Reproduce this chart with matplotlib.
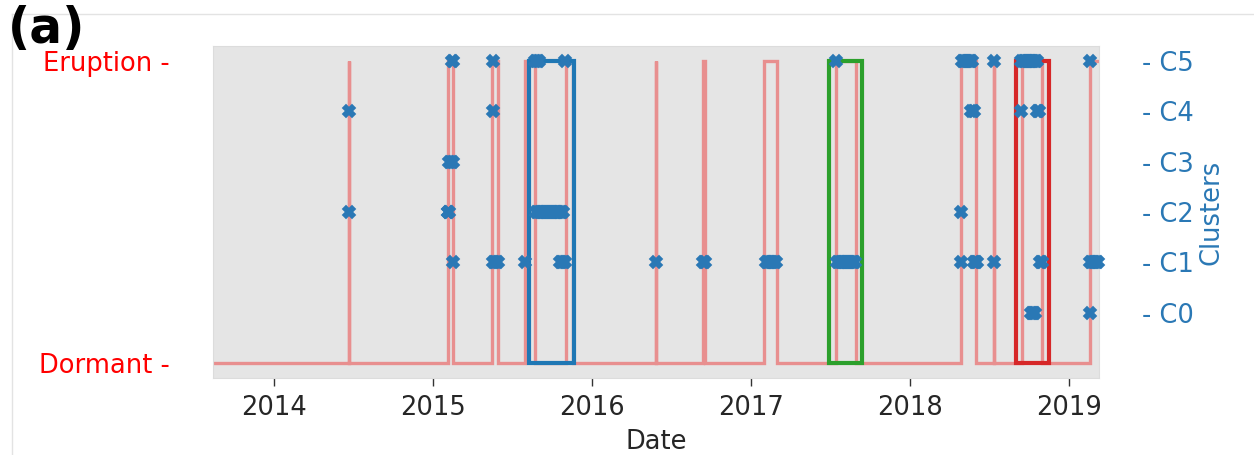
import matplotlib
matplotlib.use("Agg")
import matplotlib.pyplot as plt
import matplotlib.dates as mdates
from matplotlib.patches import Rectangle
from matplotlib.lines import Line2D
import pandas as pd

# ---------------- data ----------------
x_start = "2013-08-12"
x_end = "2019-03-12"

# eruption periods (start, end)
eruption_starts = ["2014-06-21", "2015-02-03", "2015-05-15", "2015-07-31", "2015-11-01",
                   "2016-05-27", "2016-09-13", "2017-01-30", "2017-07-15", "2018-04-28",
                   "2018-07-13", "2018-09-16", "2019-02-19"]
eruption_ends = ["2014-06-22", "2015-02-16", "2015-05-29", "2015-08-24", "2015-11-18",
                 "2016-05-28", "2016-09-17", "2017-02-28", "2017-08-29", "2018-06-02",
                 "2018-07-14", "2018-11-01", "2019-03-25"]

state_labels = ["Dormant -", "Eruption -"]
cluster_labels = ["- C0", "- C1", "- C2", "- C3", "- C4", "- C5"]

c0_dates = ["2018-10-05", "2018-10-08", "2018-10-11", "2018-10-14", "2018-10-16",
            "2019-02-18"]
c1_dates = ["2015-02-15",
            "2015-05-18", "2015-05-21", "2015-05-24", "2015-05-27", "2015-05-29",
            "2015-07-31",
            "2015-10-19", "2015-10-22", "2015-10-25", "2015-10-28", "2015-10-30",
            "2016-05-27", "2016-09-13", "2016-09-15", "2016-09-17",
            "2017-02-03", "2017-02-06", "2017-02-09", "2017-02-12", "2017-02-15",
            "2017-02-18", "2017-02-21", "2017-02-24", "2017-02-27",
            "2017-07-17", "2017-07-20", "2017-07-23", "2017-07-26", "2017-07-29",
            "2017-08-01", "2017-08-04", "2017-08-07", "2017-08-10", "2017-08-13",
            "2017-08-16", "2017-08-19", "2017-08-22", "2017-08-25", "2017-08-28",
            "2018-04-29",
            "2018-05-27", "2018-05-30", "2018-06-01", "2018-06-03",
            "2018-07-13",
            "2018-10-26", "2018-10-29", "2018-11-01",
            "2019-02-19", "2019-02-22", "2019-02-25", "2019-02-28", "2019-03-03",
            "2019-03-06", "2019-03-09"]
c2_dates = ["2014-06-21", "2015-02-03", "2015-02-05", "2015-02-07",
            "2015-08-25", "2015-08-28", "2015-08-31", "2015-09-03", "2015-09-06",
            "2015-09-09", "2015-09-12", "2015-09-15", "2015-09-18", "2015-09-21",
            "2015-09-24", "2015-09-27", "2015-09-30", "2015-10-03", "2015-10-06",
            "2015-10-09", "2015-10-12", "2015-10-15", "2015-10-18", "2015-10-21",
            "2015-10-24", "2015-10-27",
            "2018-04-29"]
c3_dates = ["2015-02-06", "2015-02-09", "2015-02-12", "2015-02-15"]
c4_dates = ["2014-06-21", "2015-05-18", "2018-05-22", "2018-05-25", "2018-05-28",
            "2018-09-14", "2018-10-19", "2018-10-22", "2018-10-24"]
c5_dates = ["2015-02-14", "2015-02-16", "2015-05-18",
            "2015-08-23", "2015-08-26", "2015-08-29", "2015-08-31", "2015-10-30",
            "2017-07-15",
            "2018-04-30", "2018-05-03", "2018-05-06", "2018-05-09", "2018-05-12",
            "2018-05-15", "2018-05-18", "2018-05-21", "2018-05-24",
            "2018-07-13",
            "2018-09-14", "2018-09-17", "2018-09-20", "2018-09-23", "2018-09-26",
            "2018-09-29", "2018-10-02", "2018-10-05", "2018-10-08", "2018-10-11",
            "2018-10-14", "2018-10-17", "2018-10-19",
            "2019-02-18"]

box_starts = ["2015-08-10", "2017-06-29", "2018-09-02"]
box_ends = ["2015-11-20", "2017-09-12", "2018-11-16"]
box_colors = ["#1f77b4", "#2ca02c", "#d62728"]

# ---------------- figure ----------------
W, H = 1254, 455
fig = plt.figure(figsize=(W / 100, H / 100), dpi=100)
fig.patch.set_facecolor("white")

ax = fig.add_axes([212.7 / W, (H - 378.3) / H, (1099.3 - 212.7) / W, (378.3 - 46) / H])
ax.set_facecolor("#E5E5E5")
for sp in ax.spines.values():
    sp.set_color("#dcdcdc")
    sp.set_linewidth(0.8)

# step line of eruption state
xs = [pd.Timestamp(x_start)]
ys = [0]
for s, e in zip(eruption_starts, eruption_ends):
    s, e = pd.Timestamp(s), pd.Timestamp(e)
    xs += [s, s, e, e]
    ys += [0, 1, 1, 0]
xs.append(pd.Timestamp(x_end) + pd.Timedelta(days=30))
ys.append(0)
ax.plot(xs, ys, color="#e88f8f", lw=2.4, solid_joinstyle="miter", zorder=2)

ax.set_xlim(pd.Timestamp(x_start), pd.Timestamp(x_end))
ax.set_ylim(-0.05, 1.05)
ax.set_yticks([0, 1])
ax.set_yticklabels(state_labels, color="red", fontsize=18.5)
ax.tick_params(axis="y", length=0, pad=31)

ax.xaxis.set_major_locator(mdates.YearLocator())
ax.xaxis.set_major_formatter(mdates.DateFormatter("%Y"))
ax.tick_params(axis="x", length=6, width=1, color="#333333", labelsize=18.5,
               labelcolor="#262626", pad=6)
ax.set_xlabel("Date", fontsize=18.5, color="#262626", labelpad=6)

# cluster axis
ax2 = ax.twinx()
for sp in ax2.spines.values():
    sp.set_visible(False)
ax2.set_ylim(-1.3, 5.3)
ax2.set_yticks(range(len(cluster_labels)))
ax2.set_yticklabels(cluster_labels, color="#2a78b5", fontsize=18.5)
ax2.tick_params(axis="y", length=0, pad=31)
ax2.set_ylabel("Clusters", color="#2a78b5", fontsize=18.5, labelpad=3)

for s, e, c in zip(box_starts, box_ends, box_colors):
    x0 = mdates.date2num(pd.Timestamp(s))
    x1 = mdates.date2num(pd.Timestamp(e))
    ax2.add_patch(Rectangle((x0, -1), x1 - x0, 6, fill=False, edgecolor=c, lw=3, zorder=3))

for lvl, dates in enumerate([c0_dates, c1_dates, c2_dates, c3_dates, c4_dates, c5_dates]):
    ax2.plot(pd.to_datetime(dates), [lvl] * len(dates), linestyle="none", marker="X",
             markersize=8.2, color="#2a78b5", mew=1.3, zorder=4, clip_on=False)

ax.set_xlim(pd.Timestamp(x_start), pd.Timestamp(x_end))

# frame lines and panel label
fig.add_artist(Line2D([12 / W, 1], [1 - 14 / H, 1 - 14 / H], transform=fig.transFigure,
                      color="#e3e3e3", lw=1))
fig.add_artist(Line2D([12 / W, 12 / W], [0, 1 - 14 / H], transform=fig.transFigure,
                      color="#e3e3e3", lw=1))
fig.text(8 / W, 1 - 42.5 / H, "(a)", fontsize=35, fontweight="bold", va="baseline",
         ha="left")

fig.savefig("out.png", dpi=100)
